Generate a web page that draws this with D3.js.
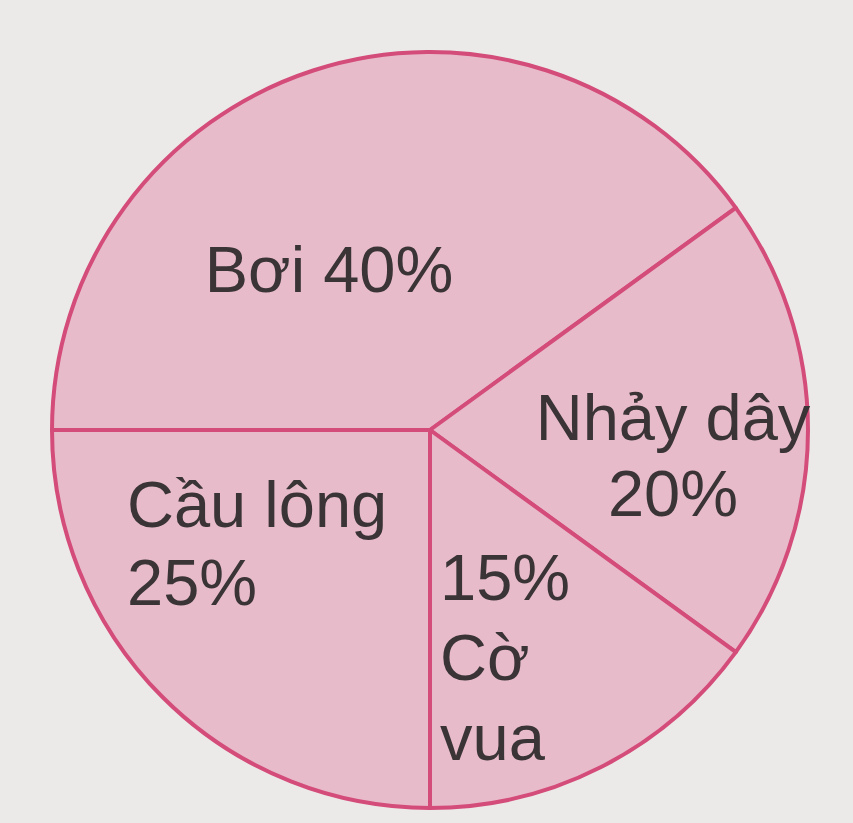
<!DOCTYPE html>
<html>
<head>
<meta charset="utf-8">
<script src="https://cdn.jsdelivr.net/npm/d3@7"></script>
<style>
  html, body { margin: 0; padding: 0; background: #eceae8; }
  svg { display: block; }
</style>
</head>
<body>
<div id="chart"></div>
<script>
// Data
const sports = ["Bơi", "Nhảy dây", "Cờ vua", "Cầu lông"];
const percents = [40, 20, 15, 25];
// label text, one entry per line
const labelLines = [
  ["Bơi 40%"],
  ["Nhảy dây", "20%"],
  ["15%", "Cờ", "vua"],
  ["Cầu lông", "25%"]
];

// Layout
const WIDTH = 853;
const HEIGHT = 823;
const CX = 430;
const CY = 430;
const RADIUS = 378;
const FONT_SIZE = 65;

// where each label block sits, relative to the pie centre (first baseline)
const labelLayout = [
  { x: -101, y: -138, anchor: "middle", lh: 78 },
  { x: 243, y: 10, anchor: "middle", lh: 76 },
  { x: 10, y: 170, anchor: "start", lh: 80 },
  { x: -303, y: 97, anchor: "start", lh: 78 }
];

const svg = d3.select("#chart")
  .append("svg")
  .attr("width", WIDTH)
  .attr("height", HEIGHT);

svg.append("rect")
  .attr("width", WIDTH)
  .attr("height", HEIGHT)
  .attr("fill", "#eceae8");

const chart = svg.append("g")
  .attr("transform", "translate(" + CX + "," + CY + ")");

const pie = d3.pie()
  .value(d => d)
  .sort(null)
  .startAngle(-Math.PI / 2)
  .endAngle(Math.PI * 1.5);

const arc = d3.arc()
  .innerRadius(0)
  .outerRadius(RADIUS);

// Draw slices
chart.selectAll("path")
  .data(pie(percents))
  .enter()
  .append("path")
  .attr("d", arc)
  .attr("fill", "#e8bbcb")
  .attr("stroke", "#d44c7a")
  .attr("stroke-width", 4)
  .attr("stroke-linejoin", "round");

// Labels
const labels = chart.selectAll("text.label")
  .data(sports)
  .enter()
  .append("text")
  .attr("class", "label")
  .attr("x", (d, i) => labelLayout[i].x)
  .attr("y", (d, i) => labelLayout[i].y)
  .attr("text-anchor", (d, i) => labelLayout[i].anchor)
  .attr("font-family", "'Liberation Sans', Arial, sans-serif")
  .attr("font-size", FONT_SIZE + "px")
  .attr("fill", "#3a3437");

labels.each(function(d, i) {
  const t = d3.select(this);
  labelLines[i].forEach((line, j) => {
    t.append("tspan")
      .attr("x", labelLayout[i].x)
      .attr("dy", j === 0 ? 0 : labelLayout[i].lh)
      .text(line);
  });
});
</script>
</body>
</html>
